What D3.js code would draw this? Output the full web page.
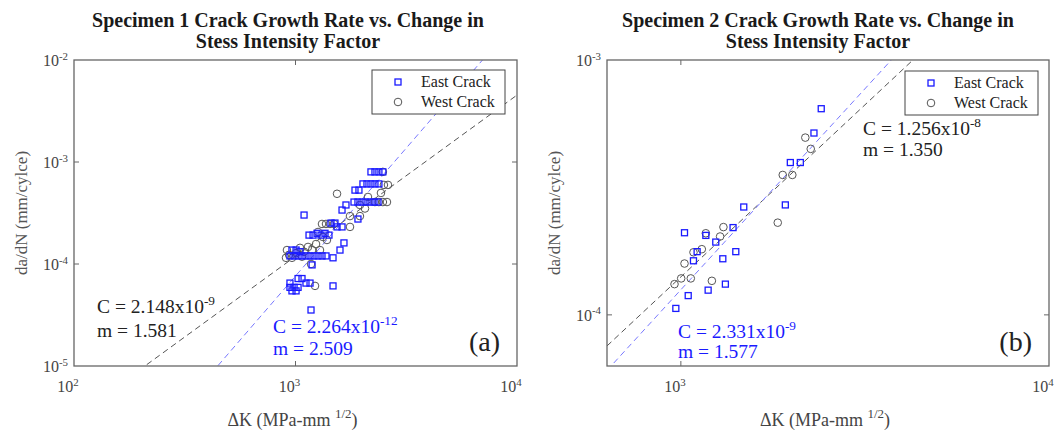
<!DOCTYPE html>
<html>
<head>
<meta charset="utf-8">
<script src="https://cdn.jsdelivr.net/npm/d3@7"></script>
<style>
  body { margin: 0; background: #fff; }
  svg { display: block; }
</style>
</head>
<body>
<div id="Area"></div>
<script>
// Specimen 1, East crack: [dK, da/dN]
var east1 = [
  [2191, 8.0e-4], [2284, 8.0e-4], [2380, 8.0e-4], [2480, 8.0e-4],
  [2016, 6.1e-4], [2102, 6.1e-4], [2191, 6.1e-4], [2284, 6.1e-4], [2380, 6.1e-4],
  [1856, 5.3e-4], [1934, 5.3e-4],
  [1837, 4.05e-4], [1914, 4.05e-4], [1995, 4.05e-4], [2080, 4.05e-4], [2168, 4.05e-4], [2260, 4.05e-4], [2356, 4.05e-4],
  [1690, 3.79e-4], [1622, 3.38e-4], [1914, 2.76e-4], [1093, 3.02e-4],
  [1446, 2.52e-4], [1507, 2.52e-4], [1540, 2.31e-4], [1622, 2.31e-4],
  [1151, 1.92e-4], [1200, 1.92e-4], [1251, 2.0e-4], [1304, 1.92e-4], [1359, 2.0e-4], [1416, 1.92e-4],
  [1655, 1.61e-4], [1588, 1.37e-4], [1477, 1.15e-4],
  [944, 1.2e-4], [985, 1.2e-4], [1027, 1.2e-4], [1070, 1.2e-4], [1115, 1.2e-4],
  [1163, 1.2e-4], [1212, 1.2e-4], [1264, 1.2e-4], [1317, 1.2e-4], [1373, 1.2e-4],
  [964, 1.37e-4], [1006, 1.37e-4], [1048, 1.32e-4],
  [1188, 9.8e-5],
  [944, 6.5e-5], [985, 5.9e-5], [1027, 5.9e-5], [1027, 7.2e-5], [1070, 7.2e-5],
  [1115, 6.5e-5], [1163, 6.5e-5], [964, 5.45e-5], [1006, 5.45e-5], [944, 5.9e-5],
  [1477, 6.1e-5], [1175, 3.54e-5]
];
// Specimen 1, West crack
var west1 = [
  [2480, 8.0e-4], [2507, 5.96e-4], [2615, 5.96e-4], [1540, 4.88e-4], [2431, 4.97e-4],
  [2124, 4.54e-4], [2284, 4.05e-4], [2380, 4.05e-4], [2480, 4.05e-4], [2588, 4.05e-4],
  [1954, 3.79e-4], [2059, 3.5e-4], [1762, 2.95e-4], [1954, 2.95e-4],
  [1317, 2.47e-4], [1373, 2.47e-4], [1431, 2.47e-4], [1492, 2.47e-4], [1762, 2.31e-4],
  [1264, 2.06e-4], [1331, 1.84e-4], [1387, 1.72e-4],
  [915, 1.37e-4], [935, 1.23e-4], [964, 1.15e-4], [1006, 1.28e-4], [1048, 1.44e-4],
  [1093, 1.32e-4], [1139, 1.47e-4], [1188, 1.37e-4], [1238, 1.57e-4], [1290, 1.37e-4],
  [906, 1.15e-4], [1070, 1.18e-4], [1175, 1.0e-4], [1225, 6.1e-5]
];
// Specimen 2, East crack
var east2 = [
  [1023, 2.10e-4], [1169, 2.05e-4], [1244, 1.93e-4], [1386, 2.20e-4], [1482, 2.65e-4],
  [1082, 1.63e-4], [1107, 1.77e-4], [1300, 1.66e-4], [1410, 1.77e-4], [1186, 1.25e-4],
  [1321, 1.32e-4], [1047, 1.19e-4], [969, 1.06e-4], [1922, 2.70e-4], [1983, 3.96e-4],
  [2111, 3.96e-4], [2299, 5.17e-4], [2406, 6.44e-4]
];
// Specimen 2, West crack
var west2 = [
  [961, 1.32e-4], [1002, 1.39e-4], [1064, 1.39e-4], [1023, 1.59e-4], [1082, 1.76e-4],
  [1140, 1.81e-4], [1169, 2.09e-4], [1278, 2.03e-4], [1305, 2.21e-4], [1214, 1.36e-4],
  [1833, 2.30e-4], [1891, 3.54e-4], [2008, 3.54e-4], [2178, 4.96e-4], [2253, 4.48e-4]
];

// Paris law fits: da/dN = C * dK^m
var fit1East = {C: 2.264e-12, m: 2.509};
var fit1West = {C: 2.148e-9, m: 1.581};
var fit2East = {C: 2.331e-9, m: 1.577};
var fit2West = {C: 1.256e-8, m: 1.350};

var titles1 = ["Specimen 1 Crack Growth Rate vs. Change in", "Stess Intensity Factor"];
var titles2 = ["Specimen 2 Crack Growth Rate vs. Change in", "Stess Intensity Factor"];
var legendLabels = ["East Crack", "West Crack"];

var blue = "#1a1aff";
var grey = "#555";
var serif = "Liberation Serif";

var width = 1061, height = 432;
var svg = d3.select("#Area").append("svg").attr("width", width).attr("height", height)
  .attr("font-family", serif);

function supText(g, x, y, base, sup, opts) {
  var t = g.append("text")
    .attr("x", x).attr("y", y)
    .attr("text-anchor", opts.anchor || "start")
    .attr("font-size", opts.size)
    .attr("fill", opts.color);
  t.append("tspan").text(base);
  t.append("tspan").attr("dy", -opts.size * 0.4).attr("font-size", opts.size * 0.68).text(sup);
  return t;
}

function drawPanel(p) {
  var g = svg.append("g");
  var x = d3.scaleLog().domain(p.xDomain).range([p.left, p.right]);
  var y = d3.scaleLog().domain(p.yDomain).range([p.bottom, p.top]);

  g.append("defs").append("clipPath").attr("id", p.id)
    .append("rect")
    .attr("x", p.left).attr("y", p.top)
    .attr("width", p.right - p.left).attr("height", p.bottom - p.top);

  // fit lines
  var plot = g.append("g").attr("clip-path", "url(#" + p.id + ")");
  [[p.fitWest, grey], [p.fitEast, "#7878ff"]].forEach(function(f) {
    var pts = p.xDomain.map(function(k) { return [k, f[0].C * Math.pow(k, f[0].m)]; });
    plot.append("path")
      .datum(pts)
      .attr("fill", "none")
      .attr("stroke", f[1])
      .attr("stroke-width", 1)
      .attr("stroke-dasharray", "6,4")
      .attr("d", d3.line().x(function(d) { return x(d[0]); }).y(function(d) { return y(d[1]); }));
  });

  plot.selectAll(".w").data(p.west).enter().append("circle")
    .attr("cx", function(d) { return x(d[0]); })
    .attr("cy", function(d) { return y(d[1]); })
    .attr("r", 3.8)
    .attr("fill", "none").attr("stroke", grey).attr("stroke-width", 1);

  plot.selectAll(".e").data(p.east).enter().append("rect")
    .attr("x", function(d) { return x(d[0]) - 3; })
    .attr("y", function(d) { return y(d[1]) - 3; })
    .attr("width", 6).attr("height", 6)
    .attr("fill", "none").attr("stroke", blue).attr("stroke-width", 1.3);

  // box and ticks
  g.append("rect")
    .attr("x", p.left).attr("y", p.top)
    .attr("width", p.right - p.left).attr("height", p.bottom - p.top)
    .attr("fill", "none").attr("stroke", "#666").attr("stroke-width", 1.3);

  p.xTicks.forEach(function(v) {
    var px = x(v);
    if (px > p.left + 1 && px < p.right - 1) {
      g.append("line").attr("x1", px).attr("x2", px).attr("y1", p.bottom).attr("y2", p.bottom - 5).attr("stroke", "#666");
      g.append("line").attr("x1", px).attr("x2", px).attr("y1", p.top).attr("y2", p.top + 5).attr("stroke", "#666");
    }
    supText(g, px - 6, p.bottom + 26, "10", String(Math.round(Math.log10(v))), {size: 16, color: "#444", anchor: "middle"});
  });
  p.yTicks.forEach(function(v) {
    var py = y(v);
    if (py > p.top + 1 && py < p.bottom - 1) {
      g.append("line").attr("x1", p.left).attr("x2", p.left + 5).attr("y1", py).attr("y2", py).attr("stroke", "#666");
      g.append("line").attr("x1", p.right).attr("x2", p.right - 5).attr("y1", py).attr("y2", py).attr("stroke", "#666");
    }
    supText(g, p.left - 6, py + 6, "10", String(Math.round(Math.log10(v))), {size: 16, color: "#444", anchor: "end"});
  });

  // axis labels
  var xl = g.append("text")
    .attr("x", (p.left + p.right) / 2 - 3).attr("y", 426)
    .attr("text-anchor", "middle").attr("font-size", 18).attr("fill", "#444");
  xl.append("tspan").text("\u0394K (MPa-mm ");
  xl.append("tspan").attr("dy", -8).attr("font-size", 13).text("1/2");
  xl.append("tspan").attr("dy", 8).text(")");

  g.append("text")
    .attr("transform", "translate(" + (p.left - 47) + "," + ((p.top + p.bottom) / 2) + ") rotate(-90)")
    .attr("text-anchor", "middle").attr("font-size", 17).attr("fill", "#555")
    .text("da/dN (mm/cylce)");

  // title
  p.titles.forEach(function(t, i) {
    g.append("text")
      .attr("x", p.titleX).attr("y", 27 + i * 21)
      .attr("text-anchor", "middle").attr("font-size", 20).attr("font-weight", "bold").attr("fill", "#1a1a1a")
      .text(t);
  });

  // legend
  var lg = g.append("g");
  lg.append("rect").attr("x", p.legend[0]).attr("y", p.legend[1]).attr("width", 133).attr("height", 44)
    .attr("fill", "#fff").attr("stroke", "#444").attr("stroke-width", 1);
  lg.append("rect").attr("x", p.legend[0] + 23).attr("y", p.legend[1] + 9).attr("width", 6).attr("height", 6)
    .attr("fill", "none").attr("stroke", blue).attr("stroke-width", 1.3);
  lg.append("circle").attr("cx", p.legend[0] + 26).attr("cy", p.legend[1] + 32).attr("r", 3.8)
    .attr("fill", "none").attr("stroke", grey);
  legendLabels.forEach(function(l, i) {
    lg.append("text").attr("x", p.legend[0] + 49).attr("y", p.legend[1] + 17 + i * 20)
      .attr("font-size", 16).attr("fill", "#222").text(l);
  });

  // fit annotations
  p.notes.forEach(function(n) {
    supText(g, n.x, n.y, "C = " + n.c, n.e, {size: 19.5, color: n.color});
    g.append("text").attr("x", n.x).attr("y", n.y + n.gap).attr("font-size", 19.5).attr("fill", n.color).text("m = " + n.m);
  });

  g.append("text").attr("x", p.right - 17).attr("y", 351).attr("text-anchor", "end")
    .attr("font-size", 28).attr("fill", "#222").text(p.tag);
}

drawPanel({
  id: "clip1", left: 74, right: 517, top: 60, bottom: 366, titleX: 288,
  xDomain: [100, 10000], yDomain: [1e-5, 1e-2],
  xTicks: [100, 1000, 10000], yTicks: [1e-5, 1e-4, 1e-3, 1e-2],
  east: east1, west: west1, fitEast: fit1East, fitWest: fit1West,
  titles: titles1, legend: [372, 70], tag: "(a)",
  notes: [
    {x: 97, y: 313, gap: 24, c: "2.148x10", e: "-9", m: "1.581", color: "#222"},
    {x: 273, y: 333, gap: 22, c: "2.264x10", e: "-12", m: "2.509", color: blue}
  ]
});

drawPanel({
  id: "clip2", left: 607, right: 1049, top: 60, bottom: 366, titleX: 818,
  xDomain: [630, 10000], yDomain: [6.3e-5, 1e-3],
  xTicks: [1000, 10000], yTicks: [1e-4, 1e-3],
  east: east2, west: west2, fitEast: fit2East, fitWest: fit2West,
  titles: titles2, legend: [905, 71], tag: "(b)",
  notes: [
    {x: 863, y: 135, gap: 21, c: "1.256x10", e: "-8", m: "1.350", color: "#222"},
    {x: 678, y: 338, gap: 20, c: "2.331x10", e: "-9", m: "1.577", color: blue}
  ]
});
</script>
</body>
</html>
